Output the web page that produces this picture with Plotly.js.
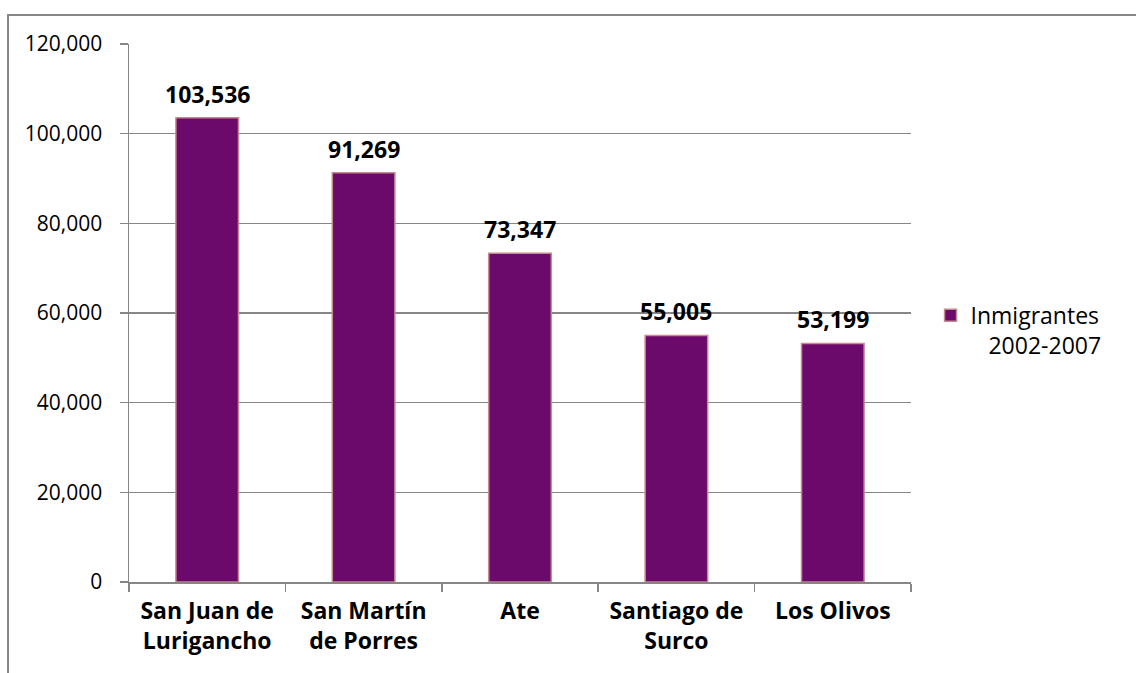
<!DOCTYPE html>
<html>
<head>
<meta charset="utf-8">
<script src="https://cdn.plot.ly/plotly-3.0.1.min.js"></script>
<style>
  html, body { margin: 0; padding: 0; background: #fff; }
  #chart { width: 1136px; height: 673px; }
</style>
</head>
<body>
<div id="chart"></div>
<script>
// distritos y cantidad de inmigrantes
const categories = [
  "San Juan de<br>Lurigancho",
  "San Martín<br>de Porres",
  "Ate",
  "Santiago de<br>Surco",
  "Los Olivos"
];
const inmigrantes = [103536, 91269, 73347, 55005, 53199];
const valueLabels = ["103,536", "91,269", "73,347", "55,005", "53,199"];
const yTicks = [0, 20000, 40000, 60000, 80000, 100000, 120000];
const yTickLabels = ["0", "20,000", "40,000", "60,000", "80,000", "100,000", "120,000"];
const seriesName = "Inmigrantes<br>\u00a0\u00a0\u00a02002-2007";

const FONT = "'Open Sans', Lato, sans-serif";
const GRID = "#868686";

const data = [
  {
    type: "bar",
    x: categories,
    y: inmigrantes,
    name: seriesName,
    marker: {
      color: "#6C0A6C",
      line: { color: "#C4898C", width: 1.5 }
    },
    hoverinfo: "x+y"
  }
];

// etiquetas de valor encima de cada barra
const valueAnnotations = categories.map((c, i) => ({
  x: c,
  y: inmigrantes[i],
  xref: "x",
  yref: "y",
  text: valueLabels[i],
  showarrow: false,
  yanchor: "bottom",
  yshift: 6,
  font: { family: FONT, size: 23, color: "#000", weight: "bold" }
}));

const layout = {
  width: 1136,
  height: 673,
  margin: { l: 129, r: 225, t: 44, b: 91 },
  paper_bgcolor: "#fff",
  plot_bgcolor: "#fff",
  font: { family: FONT, size: 21, color: "#000" },
  bargap: 0.6,
  showlegend: true,
  legend: {
    x: 1.025,
    y: 0.468,
    xanchor: "left",
    yanchor: "middle",
    valign: "top",
    font: { family: FONT, size: 23, color: "#000" },
    itemwidth: 30
  },
  annotations: valueAnnotations,
  xaxis: {
    type: "category",
    tickson: "boundaries",
    ticks: "outside",
    ticklen: 8,
    tickcolor: GRID,
    tickwidth: 1.5,
    showgrid: false,
    showline: true,
    linecolor: GRID,
    linewidth: 1.5,
    ticklabelstandoff: 8,
    tickfont: { family: FONT, size: 23, color: "#000", weight: "bold" }
  },
  yaxis: {
    range: [0, 120000],
    tickvals: yTicks,
    ticktext: yTickLabels,
    ticks: "outside",
    ticklen: 8,
    tickcolor: GRID,
    tickwidth: 1.5,
    showgrid: true,
    gridcolor: GRID,
    gridwidth: 1.5,
    zeroline: false,
    showline: true,
    linecolor: GRID,
    linewidth: 1.5,
    ticklabelstandoff: 13,
    tickfont: { family: FONT, size: 21, color: "#000" }
  },
  shapes: [
    {
      type: "rect",
      xref: "paper",
      yref: "paper",
      x0: -0.1547,
      x1: 1.35,
      y0: -0.3,
      y1: 1.054,
      line: { color: GRID, width: 2 },
      fillcolor: "rgba(0,0,0,0)",
      layer: "below"
    }
  ]
};

Plotly.newPlot("chart", data, layout, { displayModeBar: false, staticPlot: true });
</script>
</body>
</html>
